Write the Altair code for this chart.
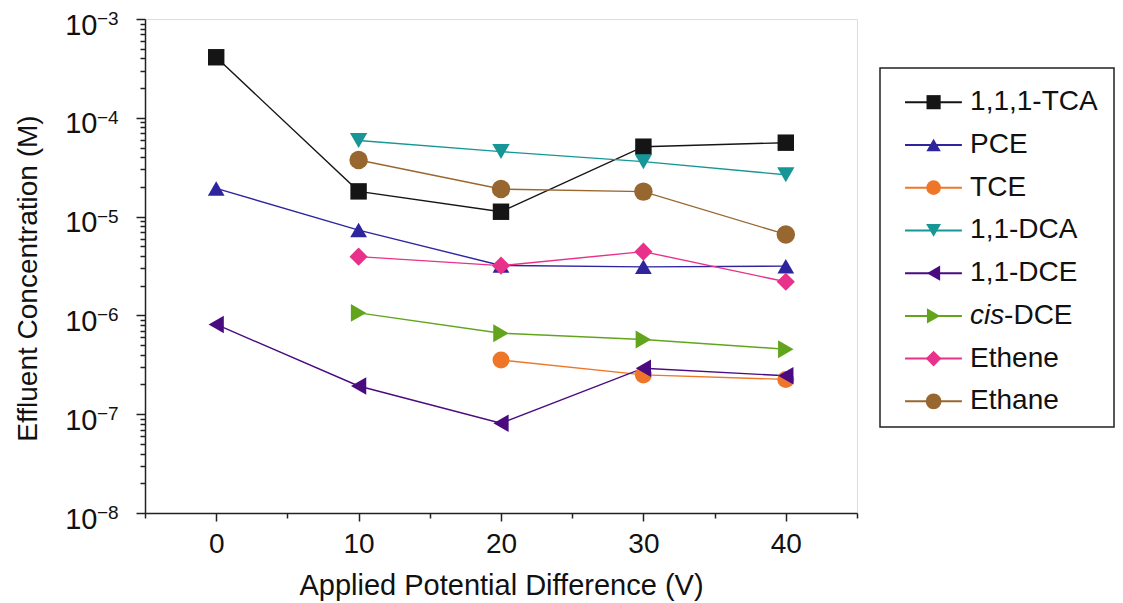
import altair as alt
import pandas as pd

# ---------------- data ----------------
x_vals = [0, 10, 20, 30, 40]
series = ["1,1,1-TCA", "PCE", "TCE", "1,1-DCA", "1,1-DCE", "cis-DCE", "Ethene", "Ethane"]
tca = [4.1e-4, 1.8e-5, 1.12e-5, 5.1e-5, 5.6e-5]
pce = [1.93e-5, 7.3e-6, 3.2e-6, 3.1e-6, 3.15e-6]
tce = [None, None, 3.54e-7, 2.5e-7, 2.25e-7]
dca = [None, 5.9e-5, 4.55e-5, 3.6e-5, 2.65e-5]
dce = [8.1e-7, 1.93e-7, 8.1e-8, 2.92e-7, 2.45e-7]
cis = [None, 1.06e-6, 6.6e-7, 5.7e-7, 4.55e-7]
ethene = [None, 3.93e-6, 3.19e-6, 4.42e-6, 2.19e-6]
ethane = [None, 3.74e-5, 1.9e-5, 1.79e-5, 6.6e-6]
values = [tca, pce, tce, dca, dce, cis, ethene, ethane]

colors = ["#151515", "#2E259E", "#EF7628", "#169696", "#4A0A80", "#62A51C", "#E8318A", "#98672F"]
shapes = ["square", "triangle-up", "circle", "triangle-down", "triangle-left",
          "triangle-right", "diamond", "circle"]
sizes = [270, 340, 180, 340, 330, 330, 380, 190]
legend_sizes = [200, 250, 140, 250, 240, 240, 280, 150]

decades = [-3, -4, -5, -6, -7, -8]
x_ticks = [-5, 0, 5, 10, 15, 20, 25, 30, 35, 40, 45]
y_ticks = [m * 10.0 ** k for k in range(-8, -3) for m in range(1, 10)] + [1e-3]

FONT = "Liberation Sans"

rows = []
for name, vals in zip(series, values):
    for x, v in zip(x_vals, vals):
        if v is not None:
            rows.append({"series": name, "x": x, "y": v})
df = pd.DataFrame(rows)

exp_df = pd.DataFrame({"k": decades, "val": [10.0 ** k for k in decades]})
exp_df["txt"] = ["\u2212" + str(-k) for k in decades]

leg_df = pd.DataFrame({"series": series, "idx": list(range(len(series)))})

color_scale = alt.Scale(domain=series, range=colors)
shape_scale = alt.Scale(domain=series, range=shapes)
size_scale = alt.Scale(domain=series, range=sizes)
leg_size_scale = alt.Scale(domain=series, range=legend_sizes)

x_scale = alt.Scale(domain=[-5, 45], nice=False, zero=False)
y_scale = alt.Scale(type="log", domain=[1e-8, 1e-3], nice=False)

decade_test = "abs(log(datum.value)/LN10 - round(log(datum.value)/LN10)) < 1e-6"

x_axis = alt.Axis(
    values=x_ticks,
    labelExpr="datum.value % 10 === 0 ? datum.label : ''",
    tickSize={"condition": {"test": "datum.value % 10 === 0", "value": 8}, "value": 5},
    tickColor="#222", tickWidth=1.5, domainColor="#222", domainWidth=1.5,
    labelFont=FONT, labelFontSize=28, labelColor="#111", labelPadding=9,
    grid=False, title="Applied Potential Difference (V)",
    titleFont=FONT, titleFontSize=29, titleFontWeight="normal", titleColor="#111",
    titleX=356, titleY=72, titleBaseline="middle", titleAlign="center",
)
y_axis = alt.Axis(
    values=y_ticks,
    labelExpr=decade_test + " ? '10' : ''",
    tickSize={"condition": {"test": decade_test, "value": 9}, "value": 5},
    tickColor="#222", tickWidth=1.5, domainColor="#222", domainWidth=1.5,
    labelFont=FONT, labelFontSize=29, labelColor="#111", labelPadding=39,
    labelOffset=6, labelBaseline="middle",
    grid=False, title="Effluent Concentration (M)",
    titleFont=FONT, titleFontSize=28, titleFontWeight="normal", titleColor="#111",
    titleX=-117, titleY=259, titleAngle=-90, titleBaseline="middle", titleAlign="center",
)

base = alt.Chart(df)
lines = base.mark_line(strokeWidth=1.4).encode(
    x=alt.X("x:Q", scale=x_scale, axis=x_axis),
    y=alt.Y("y:Q", scale=y_scale, axis=y_axis),
    color=alt.Color("series:N", scale=color_scale, legend=None),
    detail="series:N",
    order="x:Q",
)
points = base.mark_point(filled=True, opacity=1).encode(
    x=alt.X("x:Q", scale=x_scale),
    y=alt.Y("y:Q", scale=y_scale),
    color=alt.Color("series:N", scale=color_scale, legend=None),
    shape=alt.Shape("series:N", scale=shape_scale, legend=None),
    size=alt.Size("series:N", scale=size_scale, legend=None),
)
expo = alt.Chart(exp_df).mark_text(
    align="left", baseline="middle", dx=-48, dy=0, font=FONT, fontSize=19, color="#111"
).encode(
    x=alt.XDatum(-5, type="quantitative", scale=x_scale),
    y=alt.Y("val:Q", scale=y_scale),
    text="txt:N",
)
main = alt.layer(lines, points, expo)

# ---------------- legend (drawn through its own scales) ----------------
lx = alt.Scale(domain=[0, 1], range=[735, 969], nice=False, zero=False)
ly = alt.Scale(domain=[-0.8, 7.6], range=[49, 408], nice=False, zero=False)

leg = alt.Chart(leg_df)
leg_box = alt.Chart(pd.DataFrame({"a": [0]})).mark_rect(
    fillOpacity=0, stroke="#222", strokeWidth=1.5
).encode(
    x=alt.XDatum(0, type="quantitative", scale=lx, axis=None),
    x2=alt.X2Datum(1),
    y=alt.YDatum(-0.8, type="quantitative", scale=ly, axis=None),
    y2=alt.Y2Datum(7.6),
)
leg_rules = leg.mark_rule(strokeWidth=2).encode(
    x=alt.XDatum(0.107, type="quantitative", scale=lx, axis=None),
    x2=alt.X2Datum(0.350),
    y=alt.Y("idx:Q", scale=ly, axis=None),
    color=alt.Color("series:N", scale=color_scale, legend=None),
)
leg_pts = leg.mark_point(filled=True, opacity=1).encode(
    x=alt.XDatum(0.229, type="quantitative", scale=lx, axis=None),
    y=alt.Y("idx:Q", scale=ly, axis=None),
    color=alt.Color("series:N", scale=color_scale, legend=None),
    shape=alt.Shape("series:N", scale=shape_scale, legend=None),
    size=alt.Size("series:N", scale=leg_size_scale, legend=None),
)
txt_kw = dict(align="left", baseline="middle", font=FONT, fontSize=28, color="#111")
leg_txt = leg.transform_filter("datum.series !== 'cis-DCE'").mark_text(**txt_kw).encode(
    x=alt.XDatum(0.385, type="quantitative", scale=lx, axis=None),
    y=alt.Y("idx:Q", scale=ly, axis=None),
    text="series:N",
)
leg_cis = leg.transform_filter("datum.series === 'cis-DCE'").transform_calculate(
    t="'cis'"
).mark_text(fontStyle="italic", **txt_kw).encode(
    x=alt.XDatum(0.385, type="quantitative", scale=lx, axis=None),
    y=alt.Y("idx:Q", scale=ly, axis=None),
    text="t:N",
)
leg_dce = leg.transform_filter("datum.series === 'cis-DCE'").transform_calculate(
    t="'-DCE'"
).mark_text(dx=34, **txt_kw).encode(
    x=alt.XDatum(0.385, type="quantitative", scale=lx, axis=None),
    y=alt.Y("idx:Q", scale=ly, axis=None),
    text="t:N",
)
legend = alt.layer(leg_box, leg_rules, leg_pts, leg_txt, leg_cis, leg_dce).resolve_scale(
    size="independent"
)

chart = alt.layer(main, legend).resolve_scale(
    x="independent", y="independent", size="independent"
).properties(
    width=712, height=494,
    autosize=alt.AutoSizeParams(type="none"),
    padding={"left": 137, "top": 11, "right": 258, "bottom": 90},
).configure_view(stroke=None).configure(background="white")

chart.save("out.html", embed_options={"renderer": "svg", "actions": False})
